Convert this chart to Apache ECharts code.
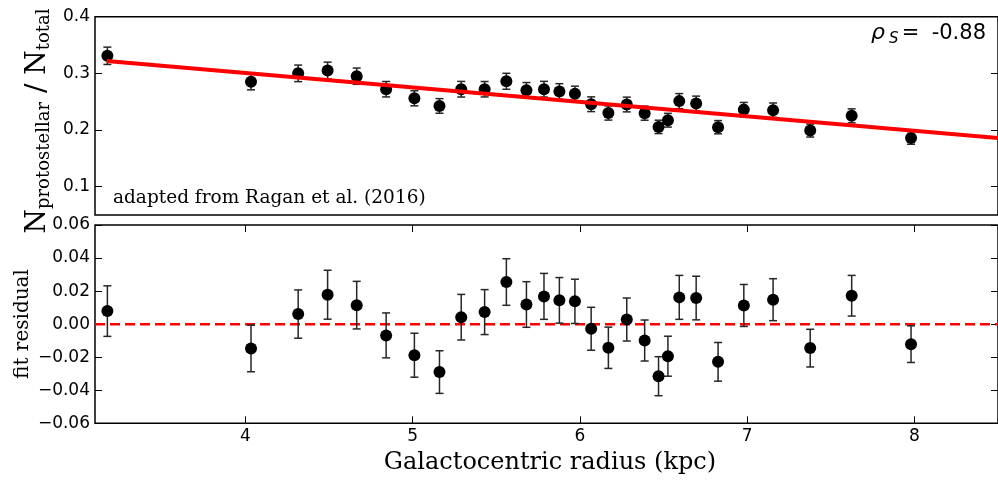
<!DOCTYPE html>
<html><head><meta charset="utf-8">
<script src="https://cdn.jsdelivr.net/npm/echarts@6/dist/echarts.min.js"></script>
<style>html,body{margin:0;padding:0;background:#fff}#c{width:998px;height:480px}</style>
</head><body><div id="c"></div>
<script>
// ---- data ----
const radius = [3.174, 4.033, 4.315, 4.491, 4.665, 4.841, 5.01, 5.16, 5.29, 5.43, 5.56, 5.68, 5.785, 5.877, 5.97, 6.067, 6.17, 6.28, 6.387, 6.47, 6.526, 6.594, 6.695, 6.826, 6.98, 7.155, 7.377, 7.625, 7.98];
const fraction = [0.331, 0.285, 0.300, 0.305, 0.295, 0.272, 0.256, 0.2425, 0.272, 0.272, 0.286, 0.270, 0.272, 0.268, 0.264, 0.2455, 0.230, 0.245, 0.2297, 0.2055, 0.2173, 0.251, 0.2466, 0.205, 0.236, 0.235, 0.199, 0.225, 0.186];
const residual = [0.0079, -0.0147, 0.0061, 0.0178, 0.0115, -0.0068, -0.0188, -0.029, 0.0042, 0.0073, 0.0255, 0.0119, 0.0168, 0.0144, 0.0138, -0.0028, -0.0143, 0.0028, -0.0099, -0.0315, -0.0194, 0.0162, 0.0158, -0.0228, 0.0113, 0.0148, -0.0145, 0.0172, -0.0121];
const errorBar = [0.0153, 0.0141, 0.0146, 0.0148, 0.0144, 0.0136, 0.0133, 0.0129, 0.0138, 0.0136, 0.0141, 0.0138, 0.0139, 0.0138, 0.0134, 0.013, 0.0125, 0.013, 0.0124, 0.0118, 0.0121, 0.0133, 0.0132, 0.0117, 0.0127, 0.0127, 0.0114, 0.0123, 0.0111];
const fitX = [3.17, 8.5];
const fitY = [0.322, 0.186];
const zeroX = [3.1, 8.5];
const zeroY = [0, 0];
const xTicks = [4, 5, 6, 7, 8];
const xTickLabels = ['4', '5', '6', '7', '8'];
const fracTicks = [0.1, 0.2, 0.3, 0.4];
const fracTickLabels = ['0.1', '0.2', '0.3', '0.4'];
const resTicks = [-0.06, -0.04, -0.02, 0, 0.02, 0.04, 0.06];
const resTickLabels = ['\u22120.06', '\u22120.04', '\u22120.02', '0.00', '0.02', '0.04', '0.06'];

// ---- helpers ----
const SANS = "'DejaVu Sans'";
const SERIF = "'DejaVu Serif'";
function labelFor(ticks, labels) {
  return v => { for (let i = 0; i < ticks.length; i++) if (Math.abs(ticks[i] - v) < 1e-9) return labels[i]; return ''; };
}
const mctx = document.createElement('canvas').getContext('2d');
function tw(t, font) { mctx.font = font; return mctx.measureText(t).width; }

const TL = 7;
function xAxisCfg(grid, pos, labels) {
  return {
    type: 'value', gridIndex: grid, position: pos, min: 3.1, max: 8.5,
    axisLine: { show: false, onZero: false },
    axisTick: { show: labels !== null, inside: true, length: TL, customValues: xTicks, lineStyle: { color: '#000', width: 1 } },
    axisLabel: labels ? { show: true, customValues: xTicks, formatter: labelFor(xTicks, labels), fontFamily: SANS, fontSize: 17, color: '#000', margin: 5 } : { show: false },
    splitLine: { show: false }
  };
}
function yAxisCfg(grid, pos, min, max, ticks, labels) {
  return {
    type: 'value', gridIndex: grid, position: pos, min: min, max: max,
    axisLine: { show: false, onZero: false },
    axisTick: { show: true, inside: true, length: TL, customValues: ticks, lineStyle: { color: '#000', width: 1 } },
    axisLabel: labels ? { show: true, customValues: ticks, formatter: labelFor(ticks, labels), fontFamily: SANS, fontSize: 17, color: '#000', margin: 5 } : { show: false },
    splitLine: { show: false }
  };
}
function errRender(params, api) {
  const x = api.value(0), y = api.value(1), e = api.value(2);
  const lo = api.coord([x, y - e]), hi = api.coord([x, y + e]);
  const cw = 4;
  const st = { stroke: '#262626', lineWidth: 1.5 };
  return { type: 'group', children: [
    { type: 'line', shape: { x1: lo[0], y1: lo[1], x2: hi[0], y2: hi[1] }, style: st },
    { type: 'line', shape: { x1: lo[0] - cw, y1: lo[1], x2: lo[0] + cw, y2: lo[1] }, style: st },
    { type: 'line', shape: { x1: hi[0] - cw, y1: hi[1], x2: hi[0] + cw, y2: hi[1] }, style: st }
  ]};
}

// ---- rotated y label: N_protostellar / N_total ----
const mainF = 28, subF = 18, subDrop = 4;
const parts = [
  { t: 'N', fs: mainF, sub: false },
  { t: 'protostellar', fs: subF, sub: true },
  { t: ' / ', fs: mainF, sub: false },
  { t: 'N', fs: mainF, sub: false },
  { t: 'total', fs: subF, sub: true }
];
let cur = 0; const ylabChildren = [];
parts.forEach(p => {
  const font = p.fs + 'px ' + SERIF;
  const base = p.sub ? subDrop : 0;
  ylabChildren.push({ type: 'text', x: cur, y: base - 0.3 * p.fs, style: { text: p.t, font: font, fill: '#000', align: 'left', verticalAlign: 'middle' } });
  cur += tw(p.t, font);
});
const ylabCenterY = 121, ylabBaseX = 46;

// ---- rho annotation ----
const numFont = '21px ' + SANS, rhoFont = 'italic 22px ' + SANS, sFont = 'italic 15px ' + SANS;
const rhoBase = 39.5;
const rhoChildren = [
  { type: 'text', x: 986, y: rhoBase - 6.3, style: { text: '-0.88', font: numFont, fill: '#000', align: 'right', verticalAlign: 'middle' } },
  { type: 'text', x: 910.5, y: rhoBase - 6.3, style: { text: '=', font: numFont, fill: '#000', align: 'center', verticalAlign: 'middle' } },
  { type: 'text', x: 889, y: rhoBase + 4 - 4.5, style: { text: 'S', font: sFont, fill: '#000', align: 'left', verticalAlign: 'middle' } },
  { type: 'text', x: 871, y: rhoBase - 6.6, style: { text: '\u03c1', font: rhoFont, fill: '#000', align: 'left', verticalAlign: 'middle' } }
];

const chart = echarts.init(document.getElementById('c'), null, { renderer: 'canvas' });
chart.setOption({
  animation: false,
  backgroundColor: '#fff',
  grid: [
    { left: 95, right: -6, top: 16.7, height: 198.3, show: true, borderColor: '#000', borderWidth: 1.5, backgroundColor: 'transparent' },
    { left: 95, right: -6, top: 225, height: 198.3, show: true, borderColor: '#000', borderWidth: 1.5, backgroundColor: 'transparent' }
  ],
  xAxis: [
    xAxisCfg(0, 'bottom', null),
    xAxisCfg(1, 'bottom', xTickLabels),
    xAxisCfg(1, 'top', [])
  ],
  yAxis: [
    yAxisCfg(0, 'left', 0.05, 0.4, fracTicks, fracTickLabels),
    yAxisCfg(0, 'right', 0.05, 0.4, fracTicks, null),
    yAxisCfg(1, 'left', -0.06, 0.06, resTicks, resTickLabels),
    yAxisCfg(1, 'right', -0.06, 0.06, resTicks, null)
  ],
  series: [
    { type: 'custom', xAxisIndex: 0, yAxisIndex: 0, renderItem: errRender, encode: { x: 0, y: 1 }, z: 2,
      data: radius.map((x, i) => [x, fraction[i], errorBar[i]]) },
    { type: 'scatter', xAxisIndex: 0, yAxisIndex: 0, symbol: 'circle', symbolSize: 12, itemStyle: { color: '#000', opacity: 1 }, z: 3,
      data: radius.map((x, i) => [x, fraction[i]]) },
    { type: 'line', xAxisIndex: 0, yAxisIndex: 0, showSymbol: false, symbol: 'none', lineStyle: { color: '#ff0000', width: 4 }, z: 4,
      data: fitX.map((x, i) => [x, fitY[i]]) },
    { type: 'line', xAxisIndex: 1, yAxisIndex: 2, showSymbol: false, symbol: 'none', lineStyle: { color: '#ff0000', width: 2.5, type: [10, 5] }, z: 2,
      data: zeroX.map((x, i) => [x, zeroY[i]]) },
    { type: 'custom', xAxisIndex: 1, yAxisIndex: 2, renderItem: errRender, encode: { x: 0, y: 1 }, z: 3,
      data: radius.map((x, i) => [x, residual[i], errorBar[i]]) },
    { type: 'scatter', xAxisIndex: 1, yAxisIndex: 2, symbol: 'circle', symbolSize: 12, itemStyle: { color: '#000', opacity: 1 }, z: 4,
      data: radius.map((x, i) => [x, residual[i]]) }
  ],
  graphic: [
    { type: 'group', x: ylabBaseX, y: ylabCenterY + cur / 2, rotation: Math.PI / 2, children: ylabChildren },
    { type: 'text', x: 23, y: 324, rotation: Math.PI / 2, style: { text: 'fit residual', font: '20px ' + SERIF, fill: '#000', align: 'center', verticalAlign: 'middle' } },
    { type: 'text', x: 550, y: 463, style: { text: 'Galactocentric radius (kpc)', font: '24px ' + SERIF, fill: '#000', align: 'center', verticalAlign: 'middle' } },
    { type: 'text', x: 113, y: 198.5, style: { text: 'adapted from Ragan et al. (2016)', font: '18.5px ' + SERIF, fill: '#000', align: 'left', verticalAlign: 'middle' } },
    { type: 'group', children: rhoChildren }
  ]
});
</script></body></html>
